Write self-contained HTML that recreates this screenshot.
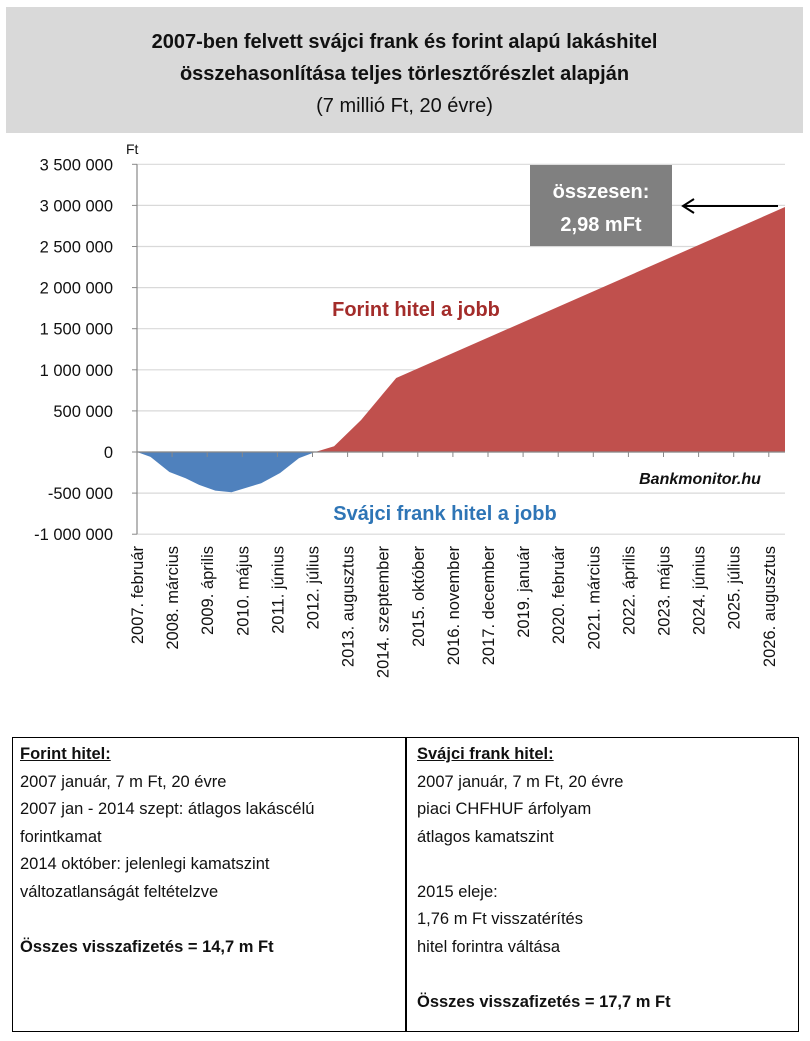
<!DOCTYPE html>
<html><head><meta charset="utf-8"><style>
body{margin:0;background:#fff;font-family:"Liberation Sans",sans-serif}
#wrap{position:relative;width:810px;height:1041px;overflow:hidden}
.t{position:absolute;white-space:nowrap}
</style></head><body><div id="wrap">
<div style="position:absolute;left:6px;top:7px;width:797px;height:126px;background:#d9d9d9"></div>
<div class="t" style="left:6px;width:797px;top:26px;text-align:center;font-size:20px;line-height:32px;font-weight:bold;color:#111">2007-ben felvett svájci frank és forint alapú lakáshitel<br>összehasonlítása teljes törlesztőrészlet alapján<br><span style="font-weight:normal">(7 millió Ft, 20 évre)</span></div>
<svg id="chart" width="810" height="730" style="position:absolute;left:0;top:0"></svg>
<div style="position:absolute;left:12px;top:737px;width:785px;height:293px;border:1.5px solid #000"></div>
<div style="position:absolute;left:405px;top:737px;width:1.5px;height:295px;background:#000"></div>
<div class="t" style="left:20px;top:741px;font-size:16.5px;line-height:27.5px;color:#111"><b><u>Forint hitel:</u></b><br>2007 január, 7 m Ft, 20 évre<br>2007 jan - 2014 szept: átlagos lakáscélú<br>forintkamat<br>2014 október: jelenlegi kamatszint<br>változatlanságát feltételzve<br><br><b>Összes visszafizetés = 14,7 m Ft</b></div>
<div class="t" style="left:417px;top:741px;font-size:16.5px;line-height:27.5px;color:#111"><b><u>Svájci frank hitel:</u></b><br>2007 január, 7 m Ft, 20 évre<br>piaci CHFHUF árfolyam<br>átlagos kamatszint<br><br>2015 eleje:<br>1,76 m Ft visszatérítés<br>hitel forintra váltása<br><br><b>Összes visszafizetés = 17,7 m Ft</b></div>
</div>
<script>
const months=[0,5,12,18,23,29,35,46,53,60,66,73,83,96,240];
const values=[0,-60000,-243000,-320000,-400000,-470000,-490000,-380000,-255000,-75000,0,70000,390000,900000,2980000];
const yTicks=[3500000,3000000,2500000,2000000,1500000,1000000,500000,0,-500000,-1000000];
const yTickLabels=["3 500 000","3 000 000","2 500 000","2 000 000","1 500 000","1 000 000","500 000","0","-500 000","-1 000 000"];
const xLabels=["2007. február","2008. március","2009. április","2010. május","2011. június","2012. július","2013. augusztus","2014. szeptember","2015. október","2016. november","2017. december","2019. január","2020. február","2021. március","2022. április","2023. május","2024. június","2025. július","2026. augusztus"];
const X0=137,X1=785,NM=240;
const x=m=>X0+m*(X1-X0)/NM;
const y=v=>452-v*82.2/1000000;
const svg=document.getElementById('chart');const NS='http://www.w3.org/2000/svg';
function mk(tag,at,txt){const e=document.createElementNS(NS,tag);for(const k in at)e.setAttribute(k,at[k]);if(txt!=null)e.textContent=txt;svg.appendChild(e);return e;}
yTicks.forEach((v,i)=>{
 const g=mk('line',{x1:X0,x2:X1,y1:y(v),y2:y(v),stroke:'#d9d9d9','stroke-width':1.2});
 
 
 const t=mk('text',{x:113,y:y(v)+6,'text-anchor':'end','font-size':16.5,fill:'#111'},yTickLabels[i]);
 
 
 mk('line',{x1:X0-5,x2:X0,y1:y(v),y2:y(v),stroke:'#888'});
});
const ft=mk('text',{x:126,y:154,'font-size':14,fill:'#111'},'Ft');


// areas
let pos=[],neg=[];
months.forEach((m,i)=>{const v=values[i];pos.push(x(m)+','+y(Math.max(v,0)));neg.push(x(m)+','+y(Math.min(v,0)));});
const a1=mk('polygon',{points:x(0)+','+y(0)+' '+neg.join(' ')+' '+x(NM)+','+y(0),fill:'#4f81bd'});


const a2=mk('polygon',{points:x(0)+','+y(0)+' '+pos.join(' ')+' '+x(NM)+','+y(0),fill:'#c0504d'});


mk('line',{x1:X0,x2:X0,y1:y(3500000),y2:y(-1000000),stroke:'#888','stroke-width':1.2});
mk('line',{x1:X0,x2:X1,y1:y(0),y2:y(0),stroke:'#888','stroke-width':1.2});
xLabels.forEach((l,i)=>{
 const xm=x(i*13);
 mk('line',{x1:xm,x2:xm,y1:y(0),y2:y(0)+5,stroke:'#888'});
 const t=mk('text',{x:0,y:0,'text-anchor':'end','font-size':16.5,fill:'#111',transform:`translate(${xm+6},546) rotate(-90)`},l);
 
 
});
const r=mk('text',{x:416,y:316,'text-anchor':'middle','font-size':20,'font-weight':'bold',fill:'#a32c2a'},'Forint hitel a jobb');


const b=mk('text',{x:445,y:520,'text-anchor':'middle','font-size':20,'font-weight':'bold',fill:'#2e75b6'},'Svájci frank hitel a jobb');


const bm=mk('text',{x:700,y:484,'text-anchor':'middle','font-size':16,'font-weight':'bold','font-style':'italic',fill:'#111'},'Bankmonitor.hu');


const bx=mk('rect',{x:530,y:165,width:142,height:81,fill:'#808080'});


mk('text',{x:601,y:198,'text-anchor':'middle','font-size':20,'font-weight':'bold',fill:'#fff'},'összesen:');
mk('text',{x:601,y:231,'text-anchor':'middle','font-size':20,'font-weight':'bold',fill:'#fff'},'2,98 mFt');
const ar=mk('line',{x1:778,x2:684,y1:206,y2:206,stroke:'#000','stroke-width':2});


mk('polyline',{points:'694,199 683,206 694,213',fill:'none',stroke:'#000','stroke-width':2});
</script>
</body></html>
